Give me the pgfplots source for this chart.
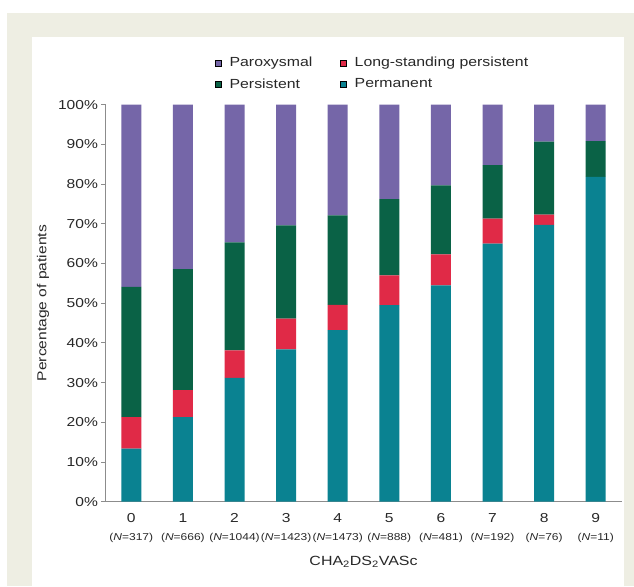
\documentclass[border=0pt]{standalone}
\usepackage{pgfplots}
\pgfplotsset{compat=1.18}
\usepackage{fontspec}
\setmainfont[FakeStretch=1.2]{Liberation Sans}
\definecolor{cream}{RGB}{238,238,227}
\definecolor{parox}{RGB}{117,102,168}
\definecolor{lsp}{RGB}{224,42,71}
\definecolor{pers}{RGB}{10,98,70}
\definecolor{perm}{RGB}{10,130,145}
\definecolor{axgray}{RGB}{140,140,140}
\definecolor{txt}{RGB}{40,40,40}
\newcommand{\nlab}[2]{#1\\[4pt]{\fontsize{10}{11}\selectfont(\textit{N}=#2)}}
\begin{document}
\begin{tikzpicture}[x=1pt,y=1pt]
\path[use as bounding box] (0,0) rectangle (634,586);
\fill[white] (0,0) rectangle (634,586);
\fill[cream] (7,0) rectangle (634,573);
\fill[white] (32,0) rectangle (624,549);
\begin{axis}[
  at={(105.5pt,84.3pt)}, anchor=south west,
  scale only axis, width=516pt, height=397pt,
  xmin=-0.5, xmax=9.5, ymin=0, ymax=100,
  axis x line*=bottom, axis y line*=left,
  axis line style={draw=axgray, line width=0.8pt},
  ybar stacked, bar width=20pt, bar shift=0pt,
  tick align=outside,
  major tick length=4pt, minor tick length=5pt,
  tick style={draw=axgray, line width=0.8pt},
  xtick={0,...,9}, xtick style={draw=none},
  minor xtick={-0.5,0.5,...,9.5},
  xticklabels={{\nlab{0}{317}},{\nlab{1}{666}},{\nlab{2}{1044}},{\nlab{3}{1423}},{\nlab{4}{1473}},
    {\nlab{5}{888}},{\nlab{6}{481}},{\nlab{7}{192}},{\nlab{8}{76}},{\nlab{9}{11}}},
  xticklabel style={align=center, font=\fontsize{13}{14}\selectfont, text=txt, anchor=north, yshift=-4pt},
  ytick={0,10,...,100},
  yticklabel={\pgfmathprintnumber{\tick}\%},
  /pgf/number format/assume math mode=true,
  yticklabel style={font=\fontsize{13}{14}\selectfont, text=txt},
  ylabel={Percentage of patients},
  xlabel={CHA\textsubscript{2}DS\textsubscript{2}VASc},
  every axis y label/.style={at={(axis description cs:-0.121,0.5)}, rotate=90, anchor=center, font=\fontsize{13}{14}\selectfont, text=txt},
  every axis x label/.style={at={(axis description cs:0.5,-0.152)}, anchor=center, font=\fontsize{13.3}{14}\selectfont, text=txt},
  legend columns=2, legend cell align=left,
  legend style={at={(215pt-105.5pt,586pt-73.5pt-84.3pt)}, anchor=west, draw=none, fill=none, inner sep=0pt,
    font=\fontsize{13.2}{15}\selectfont, text=txt,
    /tikz/every odd column/.append style={column sep=6pt},
    /tikz/every even column/.append style={column sep=26pt},
    row sep=6pt},
  legend image code/.code={\fill[#1] (0pt,-3pt) rectangle (6pt,3pt);},
]
\addlegendimage{fill=parox}
\addlegendentry{Paroxysmal}
\addlegendimage{fill=lsp}
\addlegendentry{Long-standing persistent}
\addlegendimage{fill=pers}
\addlegendentry{Persistent}
\addlegendimage{fill=perm}
\addlegendentry{Permanent}
\addplot[fill=perm, draw=none, forget plot] coordinates {(0,13.4) (1,21.3) (2,31.2) (3,38.4) (4,43.2) (5,49.5) (6,54.5) (7,65.0) (8,69.7) (9,81.8)};
\addplot[fill=lsp, draw=none, forget plot] coordinates {(0,7.9) (1,6.8) (2,6.9) (3,7.7) (4,6.4) (5,7.5) (6,7.8) (7,6.3) (8,2.6) (9,0)};
\addplot[fill=pers, draw=none, forget plot] coordinates {(0,32.8) (1,30.5) (2,27.2) (3,23.5) (4,22.5) (5,19.2) (6,17.4) (7,13.5) (8,18.4) (9,9.0)};
\addplot[fill=parox, draw=none, forget plot] coordinates {(0,45.9) (1,41.4) (2,34.7) (3,30.4) (4,27.9) (5,23.8) (6,20.3) (7,15.2) (8,9.3) (9,9.2)};
\end{axis}
\end{tikzpicture}
\end{document}
